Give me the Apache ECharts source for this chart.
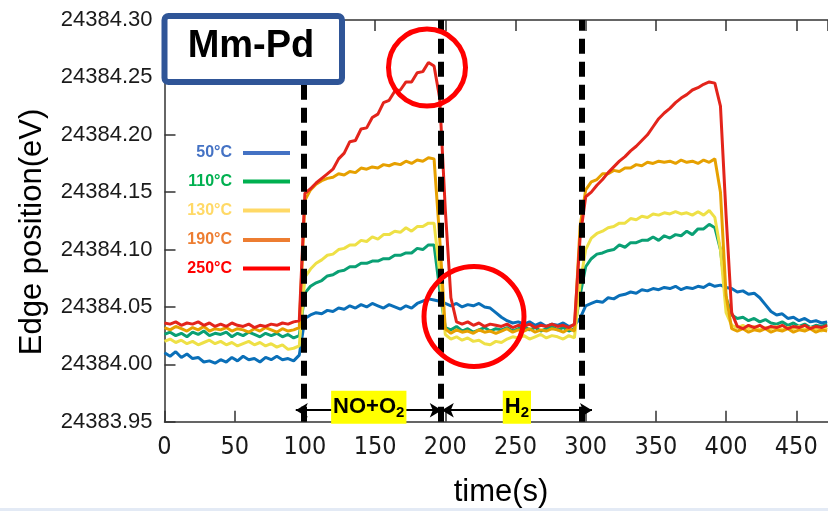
<!DOCTYPE html>
<html><head><meta charset="utf-8">
<script src="https://cdn.jsdelivr.net/npm/echarts@6/dist/echarts.min.js"></script>
<style>html,body{margin:0;padding:0;background:#fff}#c{width:828px;height:511px}</style>
</head><body><div id="c"></div>
<script>
// ---------- DATA ----------
const times = [0,4,8,12,16,20,24,28,32,36,40,44,48,52,56,60,64,68,72,76,80,84,88,92,96,100,104,108,112,116,120,124,128,132,136,140,144,148,152,156,160,164,168,172,176,180,184,188,192,196,200,204,208,212,216,220,224,228,232,236,240,244,248,252,256,260,264,268,272,276,280,284,288,292,296,300,304,308,312,316,320,324,328,332,336,340,344,348,352,356,360,364,368,372,376,380,384,388,392,396,400,404,408,412,416,420,424,428,432,436,440,444,448,452,456,460,464,468,472];

const edge50C = [
24384.010,24384.007,24384.011,24384.006,24384.009,24384.005,24384.006,24384.002,24384.003,24384.001,
24384.004,24384.002,24384.006,24384.003,24384.007,24384.004,24384.005,24384.002,24384.006,24384.004,
24384.007,24384.004,24384.005,24384.003,24384.008,24384.040,24384.043,24384.045,24384.044,24384.047,
24384.046,24384.049,24384.048,24384.051,24384.049,24384.052,24384.050,24384.053,24384.051,24384.049,
24384.052,24384.050,24384.048,24384.051,24384.049,24384.053,24384.055,24384.057,24384.056,24384.055,
24384.053,24384.051,24384.053,24384.050,24384.052,24384.051,24384.053,24384.050,24384.049,24384.045,
24384.041,24384.038,24384.036,24384.037,24384.035,24384.037,24384.034,24384.036,24384.033,24384.035,
24384.034,24384.036,24384.033,24384.034,24384.040,24384.051,24384.053,24384.055,24384.054,24384.058,
24384.057,24384.060,24384.061,24384.063,24384.062,24384.065,24384.064,24384.066,24384.065,24384.067,
24384.066,24384.068,24384.065,24384.067,24384.066,24384.068,24384.067,24384.070,24384.068,24384.069,
24384.067,24384.066,24384.063,24384.064,24384.061,24384.062,24384.058,24384.052,24384.046,24384.043,
24384.044,24384.040,24384.041,24384.038,24384.040,24384.037,24384.038,24384.036,24384.037];

const edge110C = [
24384.026,24384.028,24384.025,24384.027,24384.024,24384.028,24384.026,24384.029,24384.025,24384.027,
24384.026,24384.028,24384.024,24384.027,24384.025,24384.028,24384.026,24384.024,24384.027,24384.025,
24384.027,24384.024,24384.026,24384.023,24384.025,24384.062,24384.068,24384.071,24384.073,24384.077,
24384.078,24384.081,24384.082,24384.085,24384.085,24384.088,24384.088,24384.090,24384.090,24384.092,
24384.092,24384.095,24384.095,24384.097,24384.097,24384.101,24384.100,24384.104,24384.104,24384.065,
24384.032,24384.030,24384.033,24384.029,24384.031,24384.028,24384.030,24384.032,24384.029,24384.031,
24384.030,24384.032,24384.029,24384.031,24384.033,24384.030,24384.032,24384.029,24384.031,24384.033,
24384.030,24384.032,24384.029,24384.031,24384.060,24384.085,24384.092,24384.096,24384.097,24384.099,
24384.100,24384.104,24384.102,24384.106,24384.106,24384.108,24384.108,24384.111,24384.108,24384.112,
24384.110,24384.113,24384.112,24384.116,24384.113,24384.118,24384.118,24384.122,24384.119,24384.100,
24384.058,24384.043,24384.040,24384.041,24384.038,24384.040,24384.037,24384.039,24384.036,24384.035,
24384.037,24384.034,24384.036,24384.033,24384.035,24384.032,24384.034,24384.033,24384.035];

const edge130C = [
24384.020,24384.022,24384.019,24384.021,24384.018,24384.020,24384.017,24384.019,24384.021,24384.018,
24384.020,24384.017,24384.019,24384.016,24384.018,24384.020,24384.017,24384.019,24384.016,24384.018,
24384.015,24384.017,24384.013,24384.014,24384.016,24384.076,24384.083,24384.088,24384.091,24384.095,
24384.096,24384.100,24384.101,24384.104,24384.104,24384.108,24384.107,24384.111,24384.109,24384.113,
24384.113,24384.116,24384.115,24384.119,24384.116,24384.120,24384.120,24384.123,24384.123,24384.080,
24384.026,24384.022,24384.024,24384.021,24384.023,24384.020,24384.021,24384.018,24384.017,24384.020,
24384.019,24384.022,24384.024,24384.023,24384.025,24384.022,24384.024,24384.026,24384.023,24384.025,
24384.024,24384.022,24384.025,24384.023,24384.070,24384.100,24384.110,24384.114,24384.116,24384.119,
24384.120,24384.123,24384.123,24384.127,24384.126,24384.129,24384.128,24384.131,24384.130,24384.132,
24384.131,24384.133,24384.131,24384.132,24384.130,24384.133,24384.130,24384.134,24384.128,24384.100,
24384.045,24384.034,24384.032,24384.034,24384.031,24384.033,24384.030,24384.032,24384.031,24384.033,
24384.030,24384.032,24384.031,24384.033,24384.030,24384.032,24384.031,24384.029,24384.032];

const edge190C = [
24384.032,24384.030,24384.033,24384.031,24384.029,24384.032,24384.030,24384.033,24384.029,24384.031,
24384.030,24384.032,24384.029,24384.031,24384.030,24384.028,24384.031,24384.029,24384.032,24384.030,
24384.028,24384.031,24384.029,24384.030,24384.032,24384.143,24384.152,24384.157,24384.160,24384.162,
24384.163,24384.166,24384.165,24384.168,24384.167,24384.171,24384.170,24384.172,24384.171,24384.174,
24384.173,24384.175,24384.174,24384.177,24384.175,24384.178,24384.177,24384.180,24384.179,24384.110,
24384.031,24384.027,24384.030,24384.028,24384.029,24384.027,24384.030,24384.028,24384.029,24384.027,
24384.029,24384.031,24384.028,24384.030,24384.029,24384.031,24384.028,24384.030,24384.029,24384.031,
24384.030,24384.028,24384.031,24384.029,24384.120,24384.152,24384.159,24384.161,24384.166,24384.166,
24384.169,24384.168,24384.171,24384.171,24384.174,24384.173,24384.176,24384.175,24384.177,24384.176,
24384.177,24384.175,24384.178,24384.176,24384.177,24384.175,24384.178,24384.176,24384.179,24384.150,
24384.060,24384.031,24384.029,24384.031,24384.028,24384.030,24384.029,24384.031,24384.028,24384.030,
24384.029,24384.031,24384.028,24384.030,24384.029,24384.031,24384.028,24384.030,24384.029];

const edge250C = [
24384.036,24384.035,24384.037,24384.034,24384.036,24384.035,24384.037,24384.034,24384.036,24384.033,
24384.035,24384.033,24384.036,24384.034,24384.033,24384.035,24384.032,24384.034,24384.033,24384.035,
24384.034,24384.036,24384.035,24384.037,24384.038,24384.149,24384.153,24384.158,24384.162,24384.166,
24384.170,24384.179,24384.184,24384.194,24384.195,24384.205,24384.206,24384.215,24384.218,24384.228,
24384.230,24384.238,24384.239,24384.246,24384.246,24384.254,24384.255,24384.263,24384.260,24384.232,
24384.135,24384.058,24384.037,24384.035,24384.037,24384.034,24384.036,24384.033,24384.035,24384.034,
24384.033,24384.035,24384.032,24384.034,24384.033,24384.035,24384.032,24384.034,24384.033,24384.035,
24384.033,24384.034,24384.032,24384.035,24384.110,24384.146,24384.150,24384.156,24384.161,24384.167,
24384.172,24384.177,24384.181,24384.186,24384.190,24384.195,24384.200,24384.207,24384.214,24384.219,
24384.223,24384.228,24384.232,24384.235,24384.239,24384.241,24384.244,24384.246,24384.245,24384.225,
24384.130,24384.045,24384.033,24384.031,24384.034,24384.032,24384.034,24384.031,24384.033,24384.032,
24384.034,24384.031,24384.033,24384.032,24384.034,24384.031,24384.033,24384.032,24384.034];

const seriesNames = ['50°C','110°C','130°C','190°C','250°C'];
const seriesValues = [edge50C, edge110C, edge130C, edge190C, edge250C];
const lineColors = ['#0A6FB8','#0AA074','#EEE046','#E6A000','#E3241B'];
const legendColors = ['#4472C4','#00B050','#FFD966','#ED7D31','#FF0000'];

const yMin = 24383.95, yMax = 24384.30, yStep = 0.05;
const xMin = 0, xMax = 472.6, xStep = 50;

const phaseBoundaries = [99.5, 196.8, 297];
const arrowSpans = [[93.5, 197.5], [197.5, 304.5]];
const arrowLevel = 24383.96;
const arrowLabelMain = ['NO+O', 'H'];
const arrowLabelSub = ['2', '2'];

const titleText = 'Mm-Pd';
const xTitle = 'time(s)';
const yTitle = 'Edge position(eV)';

// ---------- CHART ----------
const FONT = '"Liberation Sans", Arial, sans-serif';
const chart = echarts.init(document.getElementById('c'), null, {renderer: 'canvas'});

const series = seriesValues.map((vals, k) => ({
  name: seriesNames[k],
  type: 'line',
  showSymbol: false,
  symbol: 'none',
  silent: true,
  z: 2 + k * 0.01,
  lineStyle: {color: lineColors[k], width: 3},
  data: times.map((t, i) => [t, vals[i]])
}));

series.push({
  type: 'line',
  data: [],
  z: 5,
  silent: true,
  markLine: {
    silent: true,
    animation: false,
    symbol: ['none', 'none'],
    label: {show: false},
    lineStyle: {color: '#000', width: 2, type: 'solid'},
    emphasis: {disabled: true},
    data: [
      ...phaseBoundaries.map(x => ({xAxis: x, symbol: 'none', lineStyle: {color: '#000', width: 6, type: [15, 8]}})),
      ...arrowSpans.map(s => [
        {coord: [s[0], arrowLevel], symbol: 'arrow', symbolSize: [11, 12], lineStyle: {color: '#000', width: 2, type: 'solid'}},
        {coord: [s[1], arrowLevel], symbol: 'arrow', symbolSize: [11, 12], lineStyle: {color: '#000', width: 2, type: 'solid'}}
      ])
    ]
  }
});

const axisCommon = {
  type: 'value',
  axisLine: {show: true, lineStyle: {color: '#333', width: 1.5}},
  axisTick: {show: true, inside: true, length: 11, lineStyle: {color: '#333', width: 1.5}},
  splitLine: {show: false}
};

chart.setOption({
  animation: false,
  backgroundColor: '#fff',
  grid: {left: 164.5, top: 20, right: 0, bottom: 89.3, containLabel: false},
  xAxis: [
    Object.assign({}, axisCommon, {
      min: xMin, max: xMax, interval: xStep, position: 'bottom',
      axisLabel: {show: true, showMaxLabel: false, margin: 13, color: '#1a1a1a', fontSize: 25,
        fontFamily: '"Liberation Sans Narrow", "DejaVu Sans Condensed", Arial, sans-serif'}
    }),
    Object.assign({}, axisCommon, {
      min: xMin, max: xMax, interval: xStep, position: 'top',
      axisLabel: {show: false}
    })
  ],
  yAxis: Object.assign({}, axisCommon, {
    min: yMin, max: yMax, interval: yStep,
    axisLabel: {show: true, margin: 12, color: '#1a1a1a', fontSize: 22, fontFamily: FONT,
      formatter: v => v.toFixed(2)}
  }),
  series: series
});

function buildGraphics() {
  const g = [];
  // Arrow labels
  arrowSpans.forEach((s, k) => {
    const p = chart.convertToPixel({xAxisIndex: 0, yAxisIndex: 0}, [(s[0] + s[1]) / 2, arrowLevel]);
    g.push({
      type: 'text', z: 50, x: p[0], y: p[1] - 3,
      style: {
        text: '{n|' + arrowLabelMain[k] + '}{s|' + arrowLabelSub[k] + '}',
        align: 'center', verticalAlign: 'middle',
        backgroundColor: '#FFFF00', padding: [2, 2, 3, 2],
        rich: {
          n: {fontSize: 22, fontWeight: 'bold', fontFamily: FONT, fill: '#000', lineHeight: 28, verticalAlign: 'middle'},
          s: {fontSize: 15, fontWeight: 'bold', fontFamily: FONT, fill: '#000', lineHeight: 28, verticalAlign: 'bottom'}
        }
      }
    });
  });
  // Legend
  const rowY = [153, 181.5, 210.5, 240, 268.5];
  seriesNames.forEach((name, k) => {
    g.push({type: 'text', z: 50, x: 232, y: rowY[k],
      style: {text: name, fill: legendColors[k], font: 'bold 16px ' + FONT, align: 'right', verticalAlign: 'middle'}});
    g.push({type: 'line', z: 50, shape: {x1: 243, y1: rowY[k], x2: 290, y2: rowY[k]},
      style: {stroke: legendColors[k], lineWidth: 4}});
  });
  // Highlight circles
  g.push({type: 'circle', z: 60, shape: {cx: 427, cy: 67.5, r: 38.5}, style: {fill: 'transparent', stroke: '#FF0000', lineWidth: 5}});
  g.push({type: 'circle', z: 60, shape: {cx: 474, cy: 316.5, r: 50}, style: {fill: 'transparent', stroke: '#FF0000', lineWidth: 5}});
  // Title box
  g.push({type: 'rect', z: 70, shape: {x: 164.5, y: 16, width: 177.5, height: 66, r: 4},
    style: {fill: '#fff', stroke: '#2F5597', lineWidth: 6}});
  g.push({type: 'text', z: 71, x: 251, y: 47,
    style: {text: titleText, fill: '#000', font: 'bold 38px ' + FONT, align: 'center', verticalAlign: 'middle'}});
  // Axis titles
  g.push({type: 'text', z: 50, x: 32, y: 232, rotation: Math.PI / 2,
    style: {text: yTitle, fill: '#000', font: '31px ' + FONT, align: 'center', verticalAlign: 'middle'}});
  g.push({type: 'text', z: 50, x: 501, y: 492,
    style: {text: xTitle, fill: '#000', font: '31px ' + FONT, align: 'center', verticalAlign: 'middle'}});
  // bottom pale strip
  g.push({type: 'rect', z: 1, shape: {x: 0, y: 508, width: 828, height: 3}, style: {fill: '#E3EAF5'}});
  chart.setOption({graphic: g});
}
buildGraphics();
</script>
</body></html>
